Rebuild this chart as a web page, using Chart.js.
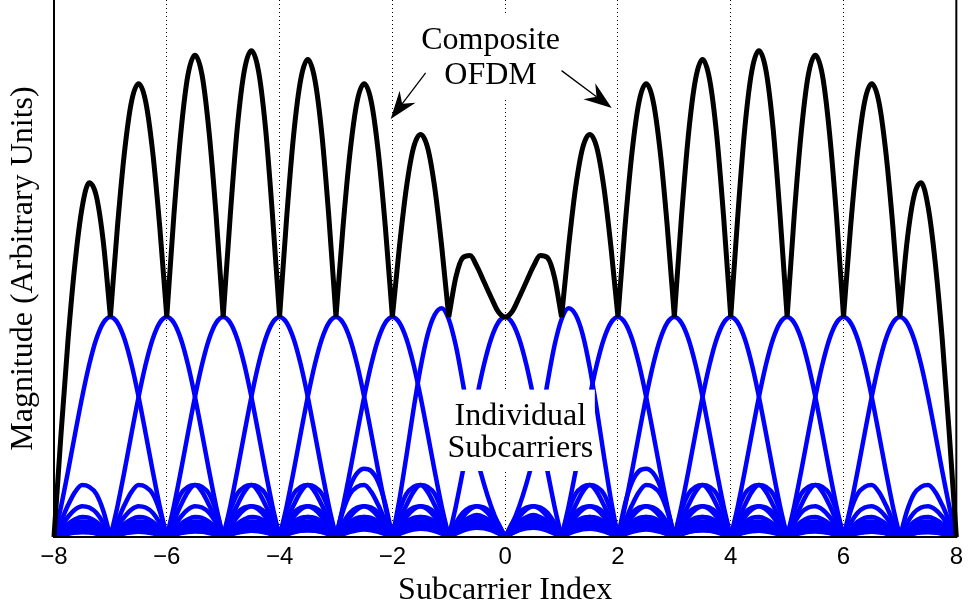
<!DOCTYPE html>
<html>
<head>
<meta charset="utf-8">
<title>OFDM subcarrier spectrum</title>
<script src="https://cdn.jsdelivr.net/npm/chart.js@4.4.1/dist/chart.umd.min.js"></script>
<style>
  html, body { margin: 0; padding: 0; background: #fff; }
</style>
</head>
<body>
<canvas id="ofdmChart" width="969" height="607"></canvas>
<script>
// all curves are sampled on the same frequency grid (subcarrier index units)
var gridStart = -8;
var gridEnd = 8;
var gridStep = 0.125;

var carrierIndex = [-7, -6, -5, -4, -3, -2, -1, 0, 1, 2, 3, 4, 5, 6, 7];
var xTicks = [-8, -6, -4, -2, 0, 2, 4, 6, 8];

// magnitude of one subcarrier vs. distance from its centre, one value per gridStep
var lobeProfile = [
    1.000, 0.974, 0.900, 0.784, 0.637, 0.471, 0.300, 0.139,
    0, 0.118, 0.196, 0.228, 0.236, 0.205, 0.145, 0.072,
    0, 0.063, 0.110, 0.134, 0.140, 0.125, 0.092, 0.047,
    0, 0.039, 0.069, 0.087, 0.091, 0.081, 0.060, 0.031,
    0, 0.030, 0.053, 0.067, 0.071, 0.064, 0.047, 0.025,
    0, 0.024, 0.043, 0.055, 0.058, 0.052, 0.039, 0.021,
    0, 0.020, 0.036, 0.046, 0.049, 0.044, 0.033, 0.018,
    0, 0.017, 0.031, 0.040, 0.042, 0.039, 0.029, 0.015,
    0, 0.015, 0.027, 0.035, 0.037, 0.034, 0.026, 0.014,
    0, 0.013, 0.024, 0.031, 0.034, 0.031, 0.023, 0.012,
    0, 0.012, 0.022, 0.028, 0.030, 0.028, 0.021, 0.011,
    0, 0.011, 0.020, 0.026, 0.028, 0.025, 0.019, 0.010,
    0, 0.010, 0.018, 0.024, 0.025, 0.023, 0.018, 0.009,
    0, 0.009, 0.017, 0.022, 0.024, 0.022, 0.016, 0.009,
    0, 0.009, 0.016, 0.021, 0.022, 0.020, 0.015, 0.008,
    0
];

// subcarrier -1 is skewed outwards; values from x = -3 to x = 1 (mirrored for +1)
var innerLobeStart = -3;
var innerLobe = [
    0, 0.13, 0.23, 0.29, 0.31, 0.30, 0.25, 0.15,
    0, 0.17, 0.37, 0.58, 0.77, 0.92, 1.01, 1.04,
    0.99, 0.87, 0.70, 0.51, 0.36, 0.24, 0.14, 0.06,
    0, 0.03, 0.06, 0.08, 0.09, 0.08, 0.06, 0.03,
    0
];

// subcarrier -2 near the centre; values from x = -1 to x = 0 (mirrored for +2)
var innerTailStart = -1;
var innerTail = [0, 0.04, 0.07, 0.09, 0.10, 0.09, 0.07, 0.04, 0];

// composite OFDM magnitude from x = -8 to x = 8
var compositeMag = [
    0, 0.47, 0.90, 1.25, 1.50, 1.61, 1.55, 1.34, 1.00,
    1.41, 1.75, 1.98, 2.06, 1.98, 1.75, 1.41, 1.00,
    1.46, 1.84, 2.10, 2.19, 2.10, 1.84, 1.46, 1.00,
    1.46, 1.86, 2.12, 2.21, 2.12, 1.86, 1.46, 1.00,
    1.45, 1.83, 2.08, 2.17, 2.08, 1.83, 1.45, 1.00,
    1.41, 1.75, 1.98, 2.06, 1.98, 1.75, 1.41, 1.00,
    1.32, 1.59, 1.77, 1.83, 1.77, 1.59, 1.32, 1.00,
    1.18, 1.27, 1.28, 1.23, 1.16, 1.09, 1.025, 1.00,
    1.025, 1.09, 1.16, 1.23, 1.28, 1.27, 1.18, 1.00,
    1.32, 1.59, 1.77, 1.83, 1.77, 1.59, 1.32, 1.00,
    1.41, 1.75, 1.98, 2.06, 1.98, 1.75, 1.41, 1.00,
    1.45, 1.83, 2.08, 2.17, 2.08, 1.83, 1.45, 1.00,
    1.46, 1.86, 2.12, 2.21, 2.12, 1.86, 1.46, 1.00,
    1.46, 1.84, 2.10, 2.19, 2.10, 1.84, 1.46, 1.00,
    1.41, 1.75, 1.98, 2.06, 1.98, 1.75, 1.41, 1.00,
    1.34, 1.55, 1.61, 1.50, 1.25, 0.90, 0.47, 0
];
// integer points where the composite has a sharp notch
var compositeCusps = [-7, -6, -5, -4, -3, -2, -1, 1, 2, 3, 4, 5, 6, 7];


// value from a table that starts at x0, or undefined outside it
function lookup(table, x0, x) {
    var i = Math.round((x - x0) / gridStep);
    if (i < 0 || i >= table.length) return undefined;
    return table[i];
}

function carrierValues(c) {
    var vals = [];
    var n = Math.round((gridEnd - gridStart) / gridStep) + 1;
    for (var i = 0; i < n; i++) {
        var x = gridStart + i * gridStep;
        var v = lobeProfile[Math.round(Math.abs(x - c) / gridStep)];
        var mx = c < 0 ? x : -x;   // positive carriers mirror the negative ones
        var o;
        if (Math.abs(c) === 1) o = lookup(innerLobe, innerLobeStart, mx);
        if (Math.abs(c) === 2) o = lookup(innerTail, innerTailStart, mx);
        if (o !== undefined) v = o;
        vals.push(v);
    }
    return vals;
}

// split the line at notches so the spline keeps them sharp
function toPoints(values, isBreak) {
    var pts = [];
    values.forEach(function (v, i) {
        var x = gridStart + i * gridStep;
        pts.push({ x: x, y: v });
        if (i > 0 && i < values.length - 1 && isBreak(x, v)) {
            pts.push({ x: x, y: null });
            pts.push({ x: x, y: v });
        }
    });
    return pts;
}

var datasets = [{
    label: 'Composite OFDM',
    data: toPoints(compositeMag, function (x) { return compositeCusps.indexOf(x) >= 0; }),
    borderColor: '#000000',
    borderWidth: 5
}];

carrierIndex.forEach(function (c) {
    datasets.push({
        label: 'Subcarrier ' + c,
        data: toPoints(carrierValues(c), function (x, v) { return v === 0; }),
        borderColor: '#0000ff',
        borderWidth: 4.5
    });
});

datasets.forEach(function (d) {
    d.pointRadius = 0;
    d.fill = false;
    d.cubicInterpolationMode = 'monotone';
    d.clip = { left: 6, right: 6, top: 6, bottom: 0 };
});


// axes box, text boxes and arrows
var annotate = {
    id: 'annotate',
    afterDatasetsDraw: function (chart) {
        var ctx = chart.ctx;
        var a = chart.chartArea;
        var xs = chart.scales.x, ys = chart.scales.y;
        function px(v) { return xs.getPixelForValue(v); }
        function py(v) { return ys.getPixelForValue(v); }

        ctx.save();
        ctx.strokeStyle = '#000';
        ctx.lineWidth = 2;
        ctx.beginPath();
        ctx.moveTo(a.left, a.top);
        ctx.lineTo(a.left, a.bottom);
        ctx.lineTo(a.right, a.bottom);
        ctx.lineTo(a.right, a.top);
        ctx.stroke();

        function textBox(x1, y1, x2, y2, lines, cx, baselines) {
            ctx.fillStyle = '#fff';
            ctx.fillRect(px(x1), py(y1), px(x2) - px(x1), py(y2) - py(y1));
            ctx.fillStyle = '#000';
            ctx.font = '32px "Liberation Serif"';
            ctx.textAlign = 'center';
            ctx.textBaseline = 'alphabetic';
            lines.forEach(function (t, i) {
                ctx.fillText(t, px(cx), py(baselines[i]));
            });
        }

        function arrow(x1, y1, x2, y2) {
            var sx = px(x1), sy = py(y1), ex = px(x2), ey = py(y2);
            var ang = Math.atan2(ey - sy, ex - sx);
            var len = 28, half = 10, notch = 19;
            ctx.strokeStyle = '#000';
            ctx.lineWidth = 1.3;
            ctx.beginPath();
            ctx.moveTo(sx, sy);
            ctx.lineTo(ex - Math.cos(ang) * notch, ey - Math.sin(ang) * notch);
            ctx.stroke();
            ctx.save();
            ctx.translate(ex, ey);
            ctx.rotate(ang);
            ctx.fillStyle = '#000';
            ctx.beginPath();
            ctx.moveTo(0, 0);
            ctx.lineTo(-len, -half);
            ctx.lineTo(-notch, 0);
            ctx.lineTo(-len, half);
            ctx.closePath();
            ctx.fill();
            ctx.restore();
        }

        textBox(-1.59, 2.38, 1.06, 2.0, ['Composite', 'OFDM'], -0.26, [2.22, 2.06]);
        arrow(-1.41, 2.11, -2.03, 1.90);
        arrow(1.0, 2.12, 1.89, 1.95);
        textBox(-1.06, 0.67, 1.59, 0.30, ['Individual', 'Subcarriers'], 0.27, [0.51, 0.365]);
        ctx.restore();
    }
};

var ctx = document.getElementById('ofdmChart').getContext('2d');
var ofdmChart = new Chart(ctx, {
    type: 'line',
    data: { datasets: datasets },
    plugins: [annotate],
    options: {
        responsive: false,
        animation: false,
        devicePixelRatio: 1,
        layout: { padding: { top: 0, right: 7, bottom: 0, left: 0 } },
        plugins: {
            legend: { display: false },
            tooltip: { enabled: false }
        },
        scales: {
            x: {
                type: 'linear',
                min: -8,
                max: 8,
                afterBuildTicks: function (scale) {
                    scale.ticks = xTicks.map(function (v) { return { value: v }; });
                },
                afterFit: function (scale) { scale.height = 70; },
                ticks: {
                    color: '#000',
                    padding: 6,
                    maxRotation: 0,
                    font: { family: 'Liberation Sans', size: 24 },
                    callback: function (v) { return v < 0 ? '\u2212' + Math.abs(v) : String(v); }
                },
                grid: { color: '#000', lineWidth: 1, drawTicks: false },
                border: { display: false, dash: [1, 3] },
                title: {
                    display: true,
                    text: 'Subcarrier Index',
                    color: '#000',
                    font: { family: 'Liberation Serif', size: 32 },
                    padding: { top: 0, bottom: -3 }
                }
            },
            y: {
                type: 'linear',
                min: 0,
                max: 2.441,
                afterFit: function (scale) { scale.width = 54; },
                ticks: { display: false },
                grid: { display: false },
                border: { display: false },
                title: {
                    display: true,
                    text: 'Magnitude (Arbitrary Units)',
                    color: '#000',
                    font: { family: 'Liberation Serif', size: 32 },
                    padding: { top: 4, bottom: 0 }
                }
            }
        }
    }
});
</script>
</body>
</html>
